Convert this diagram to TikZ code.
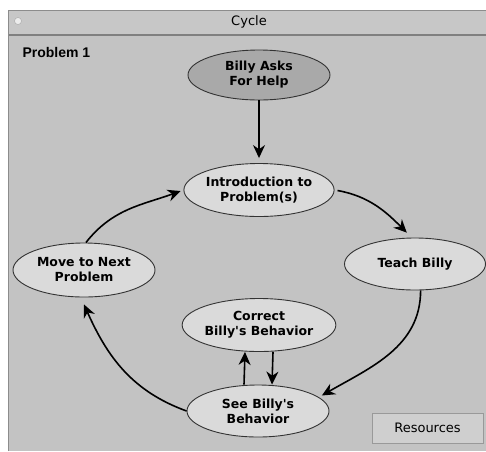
\documentclass[tikz,border=0pt]{standalone}
\usepackage{fontspec}
\setmainfont{DejaVu Sans}
\newfontfamily\helvfont{Liberation Sans}
\usetikzlibrary{shapes.geometric,arrows.meta}
\definecolor{winbg}{HTML}{C3C3C3}
\definecolor{barbg}{HTML}{C7C7C7}
\definecolor{ovalfill}{HTML}{DADADA}
\definecolor{askfill}{HTML}{A9A9A9}
\definecolor{btnfill}{HTML}{CFCFCF}

\begin{document}
\begin{tikzpicture}[x=1pt, y=1pt,
  oval/.style={ellipse, draw=black!80, line width=0.9pt, fill=ovalfill,
               minimum width=142pt, minimum height=53pt, inner sep=0pt,
               align=center, font=\fontsize{12.5}{15}\selectfont\bfseries},
  flow/.style={-{Stealth[length=13pt,width=12pt]}, line width=1.6pt},
  btn/.style={draw=black!40, fill=btnfill, minimum width=111pt,
              minimum height=30pt, inner sep=0pt, font=\fontsize{13}{15}\selectfont}
]
\useasboundingbox (0,0) rectangle (486,-451);
% ---------------- window ----------------
\fill[white] (0,0) rectangle (486,-451);
\fill[winbg] (8.5,-10.5) rectangle (486,-451);
\draw[black!45, line width=1pt] (8.5,-451) -- (8.5,-10.5) -- (486,-10.5);
\fill[barbg] (9,-11) rectangle (486,-34);
\draw[black!50, line width=2pt] (9,-35) -- (486,-35);
\draw[black!35, fill=white!85!gray] (18,-21) circle (3.5);
\node[font=\fontsize{13}{15}\selectfont] (title) at (249,-22) {Cycle};
\node[anchor=base west, font=\helvfont\fontsize{14}{16}\selectfont\bfseries]
  (prob) at (19,-57) {Problem 1};
% ---------------- cycle ----------------
\node[oval, fill=askfill, minimum height=50pt] (help) at (259,-75) {Billy Asks\\For Help};
\node[oval] (intro) at (259,-190) {Introduction to\\Problem(s)};
\node[oval, minimum width=141pt, minimum height=52pt] (teach) at (415,-264) {Teach Billy};
\node[oval, minimum height=54pt] (move) at (84,-270) {Move to Next\\Problem};
\node[oval] (correct) at (259,-325) {Correct\\Billy\textquotesingle s Behavior};
\node[oval, minimum height=52pt] (see) at (258,-411) {See Billy\textquotesingle s\\Behavior};
\node[btn] (res) at (427.5,-428) {Resources};

\draw[flow, shorten >=5pt] (help.south) -- (intro.north);
\draw[flow, shorten <=3pt, shorten >=7pt] (intro.east) to[out=-10, in=135] (teach.97);
\draw[flow] (teach.-78) to[out=-90, in=30] ([xshift=6pt]see.15);
\draw[flow] (see.west) to[out=160, in=-66] ([yshift=-7pt]move.south);
\draw[flow, shorten >=3pt] (move.86) to[out=52, in=200] (intro.west);
\draw[flow] ([xshift=-14pt]see.north) -- ([xshift=-14pt]correct.south);
\draw[flow] ([xshift=14pt]correct.south) -- ([xshift=14pt]see.north);
\end{tikzpicture}
\end{document}
